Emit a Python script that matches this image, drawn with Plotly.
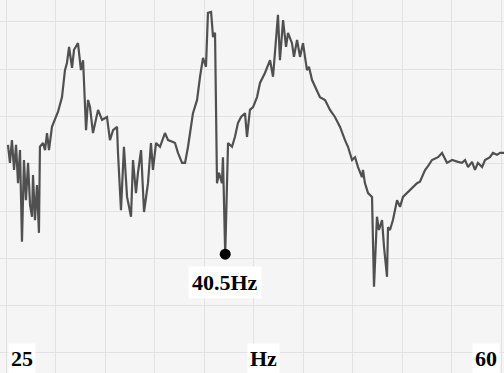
import plotly.graph_objects as go

# Frequency (Hz) and response amplitude (grid units)
freq_hz = [25.14, 25.28, 25.42, 25.57, 25.71, 25.85, 25.99, 26.13, 26.27, 26.41,
           26.56, 26.70, 26.84, 26.91, 27.05, 27.19, 27.33, 27.40, 27.62, 27.76,
           27.90, 28.04, 28.25, 28.46, 28.68, 28.96, 29.17, 29.31, 29.46, 29.67,
           29.81, 30.09, 30.30, 30.45, 30.66, 30.80, 30.94, 31.15, 31.51, 31.79,
           32.14, 32.35, 32.57, 32.85, 32.92, 33.13, 33.34, 33.56, 33.84, 33.98,
           34.19, 34.33, 34.55, 34.76, 35.04, 35.25, 35.39, 35.61, 35.89, 36.24,
           36.46, 36.81, 36.95, 37.16, 37.45, 37.66, 37.87, 38.22, 38.51, 38.72,
           38.93, 39.14, 39.28, 39.50, 39.64, 39.78, 39.92, 40.06, 40.27, 40.34,
           40.50, 40.70, 40.98, 41.19, 41.40, 41.62, 41.90, 42.04, 42.25, 42.47,
           42.75, 42.96, 43.31, 43.67, 43.88, 44.23, 44.37, 44.59, 44.80, 44.94,
           45.22, 45.36, 45.58, 45.79, 46.00, 46.28, 46.42, 46.64, 46.85, 47.20,
           47.56, 47.91, 48.26, 48.62, 48.97, 49.18, 49.47, 49.68, 49.89, 50.17,
           50.24, 50.38, 50.60, 50.88, 50.95, 51.02, 51.23, 51.37, 51.59, 51.73,
           51.94, 52.01, 52.15, 52.36, 52.65, 52.86, 53.07, 53.35, 53.57, 53.78,
           54.06, 54.27, 54.63, 54.84, 55.12, 55.55, 55.83, 56.18, 56.54, 56.96,
           57.24, 57.46, 57.67, 57.95, 58.16, 58.37, 58.66, 58.87, 59.22, 59.43,
           59.72, 59.93, 60.21]

amplitude = [4.40, 4.02, 4.50, 3.87, 4.40, 3.59, 4.29, 2.35, 4.08, 3.23,
             4.02, 3.13, 2.88, 3.76, 2.81, 3.55, 2.54, 4.36, 4.44, 4.29,
             4.65, 4.29, 4.78, 4.93, 5.10, 5.41, 5.98, 6.13, 6.47, 6.03,
             6.41, 6.55, 5.98, 6.19, 4.71, 5.35, 5.20, 4.65, 5.14, 4.93,
             4.99, 4.50, 4.71, 4.78, 4.23, 3.02, 4.36, 3.30, 2.88, 4.08,
             3.38, 3.81, 4.29, 2.98, 3.59, 4.44, 3.87, 4.44, 4.36, 4.65,
             4.50, 4.46, 4.44, 4.23, 4.02, 4.02, 4.36, 5.07, 5.35, 5.84,
             6.24, 6.05, 7.19, 7.21, 6.68, 6.77, 3.59, 3.81, 3.59, 4.14,
             2.09, 4.44, 4.36, 4.57, 4.86, 4.99, 5.07, 4.57, 5.14, 5.20,
             5.41, 5.71, 5.92, 6.19, 5.84, 7.15, 6.19, 7.04, 6.47, 6.77,
             6.55, 6.26, 6.62, 6.26, 6.55, 5.98, 6.05, 5.77, 5.62, 5.41,
             5.35, 5.14, 4.99, 4.78, 4.50, 4.36, 4.08, 4.14, 3.93, 3.72,
             3.87, 3.59, 3.38, 3.30, 2.33, 1.40, 2.88, 2.60, 2.81, 2.24,
             1.61, 2.66, 2.60, 2.81, 3.23, 3.09, 3.30, 3.38, 3.45, 3.51,
             3.59, 3.62, 3.87, 3.95, 4.08, 4.14, 4.23, 4.02, 4.08, 4.04,
             4.02, 4.08, 3.93, 4.04, 3.87, 4.02, 3.93, 4.08, 4.14, 4.23,
             4.19, 4.23, 4.23]

marker_hz = [40.5]
marker_amp = [2.09]
marker_label = "40.5Hz"
axis_labels = ["25", "Hz", "60"]

label_font = dict(family="Liberation Serif", size=22, color="#000000")

fig = go.Figure()
fig.add_trace(go.Scatter(x=freq_hz, y=amplitude, mode="lines",
                         line=dict(color="#505050", width=2.2),
                         hoverinfo="skip", showlegend=False))
fig.add_trace(go.Scatter(x=marker_hz, y=marker_amp, mode="markers",
                         marker=dict(color="#000000", size=11),
                         hoverinfo="skip", showlegend=False))

fig.add_annotation(x=marker_hz[0], y=1.50, xref="x", yref="y",
                   text="<b>" + marker_label + "</b>", showarrow=False,
                   font=label_font, bgcolor="#ffffff", borderpad=3)

for txt, px, anchor in zip(axis_labels, [0.016, 0.522, 0.993], ["left", "center", "right"]):
    fig.add_annotation(x=px, y=0.038, xref="paper", yref="paper",
                       xanchor=anchor, yanchor="middle",
                       text="<b>" + txt + "</b>", showarrow=False,
                       font=label_font, bgcolor="#ffffff", borderpad=2)

fig.update_layout(
    width=504, height=373,
    margin=dict(l=0, r=0, t=0, b=0),
    paper_bgcolor="#f5f5f5",
    plot_bgcolor="#f5f5f5",
    xaxis=dict(range=[24.576, 60.212], tick0=25, dtick=3.5,
               showgrid=True, gridcolor="#e2e2e2", gridwidth=1.2,
               zeroline=False, showticklabels=False, showline=False),
    yaxis=dict(range=[-0.423, 7.463], tick0=0, dtick=1,
               showgrid=True, gridcolor="#e2e2e2", gridwidth=1.2,
               zeroline=False, showticklabels=False, showline=False),
)

fig.write_html("out.html", config={"displayModeBar": False},
               post_script="document.body.style.margin='0';document.body.style.padding='0';")
